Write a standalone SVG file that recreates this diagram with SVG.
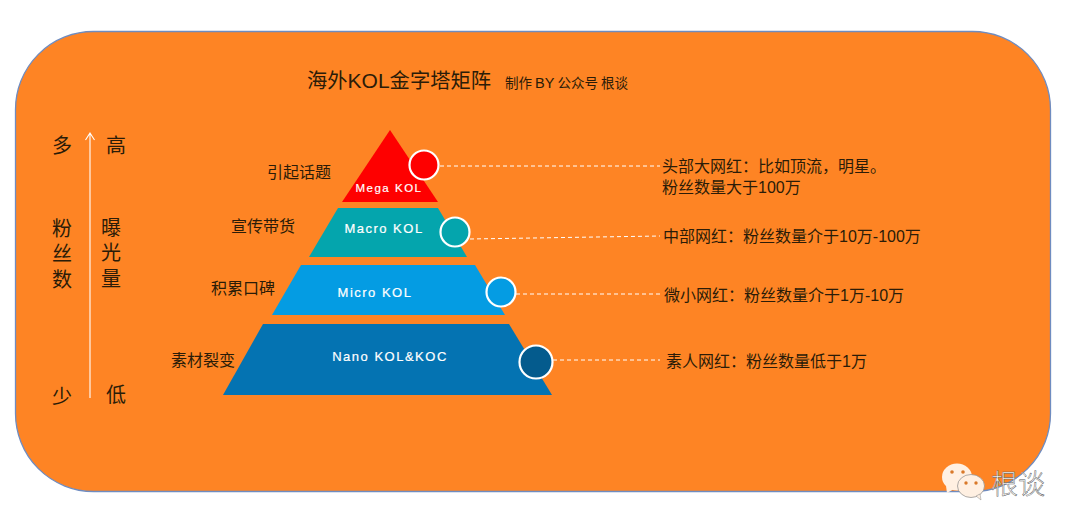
<svg xmlns="http://www.w3.org/2000/svg" width="1080" height="532" viewBox="0 0 1080 532">
<style>
text{font-family:"Noto Sans CJK SC","Liberation Sans",sans-serif;fill:#2b1c08}
.lat{font-family:"Liberation Sans","Noto Sans CJK SC",sans-serif}
.lvl{font-family:"Liberation Sans",sans-serif;fill:#fff;stroke:#fff;stroke-width:.2;letter-spacing:1.5px;text-anchor:middle;font-size:13px}
.tag{font-size:16px;text-anchor:middle}
.desc{font-family:"Liberation Sans","Noto Sans CJK SC",sans-serif;font-size:16px}
.big{font-size:20px;text-anchor:middle}
.col{font-size:20px;writing-mode:vertical-rl;letter-spacing:5.500px}
.dash{stroke:#fff;stroke-width:1;stroke-dasharray:4 3;fill:none}
.dot{stroke:#fff;stroke-width:2.200}
</style>
<g id="background"><rect x="15.500" y="31.500" width="1035" height="460" rx="78" ry="78" fill="#fe8424" stroke="#6f8cc0" stroke-width="1.300"/></g>
<g id="title"><text x="307" y="88" font-size="20.300">海外<tspan class="lat" font-size="21">KOL</tspan>金字塔矩阵</text><text x="505" y="88" font-size="13.500">制作 <tspan class="lat" font-size="14.500">BY</tspan> 公众号 根谈</text></g>
<g id="connectors">
<path class="dash" d="M440 166H660"/>
<path class="dash" d="M470 239L660 236"/>
<path class="dash" d="M516 294H660"/>
<path class="dash" d="M553 360H660"/>
<path d="M90 398V133M85.500 140L90 133L94.500 140" stroke="#fff" stroke-width="1.100" fill="none"/>
</g>
<g id="axis-left"><text class="big" x="62" y="153">多</text><text class="col" x="62" y="218">粉丝数</text><text class="big" x="62" y="404">少</text></g>
<g id="axis-right"><text class="big" x="116" y="153">高</text><text class="col" x="111" y="217">曝光量</text><text class="big" x="116" y="402">低</text></g>
<g id="mega"><path d="M390 130L438 202H342Z" fill="#fe0000"/><text class="lvl" x="389" y="192" style="font-size:11.500px">Mega KOL</text><circle class="dot" cx="424" cy="165" r="14.500" fill="#fe0000"/><text class="tag" x="299" y="178">引起话题</text><text class="desc" x="662" y="172">头部大网红：比如顶流，明星。</text><text class="desc" x="662" y="193">粉丝数量大于100万</text></g>
<g id="macro"><path d="M338 208H438L467 257H309Z" fill="#04a5ad"/><text class="lvl" x="384" y="233">Macro KOL</text><circle class="dot" cx="455" cy="232" r="14.500" fill="#04a5ad"/><text class="tag" x="263" y="232">宣传带货</text><text class="desc" x="663" y="242">中部网红：粉丝数量介于10万-100万</text></g>
<g id="micro"><path d="M301 265H475L505 315H272Z" fill="#049ce3"/><text class="lvl" x="375" y="297">Micro KOL</text><circle class="dot" cx="501" cy="292" r="14.500" fill="#049ce3"/><text class="tag" x="243" y="294">积累口碑</text><text class="desc" x="664" y="301">微小网红：粉丝数量介于1万-10万</text></g>
<g id="nano"><path d="M263 324H509L552 395H223Z" fill="#0473b2"/><text class="lvl" x="390" y="361">Nano KOL&amp;KOC</text><circle class="dot" cx="536" cy="362" r="16.500" fill="#045b8d"/><text class="tag" x="203" y="366">素材裂变</text><text class="desc" x="666" y="367">素人网红：粉丝数量低于1万</text></g>
<g id="watermark">
<ellipse cx="957" cy="477" rx="15" ry="13.500" fill="#fff0e2"/><path d="M946 486L947 493L954 489Z" fill="#fff0e2"/>
<ellipse cx="971" cy="486" rx="13.500" ry="11.500" fill="#fff0e2" stroke="#8a8a8a" stroke-width=".7"/><path d="M976 496L981 500L980 494Z" fill="#fff0e2" stroke="#8a8a8a" stroke-width=".5"/>
<circle cx="952" cy="472" r="1.800" fill="#d9792a"/><circle cx="963" cy="472" r="1.800" fill="#d9792a"/><circle cx="966" cy="483" r="1.700" fill="#d9792a"/><circle cx="976" cy="483" r="1.700" fill="#d9792a"/>
<text x="991" y="494" font-size="27" font-weight="300" style="fill:#fff;stroke:#555;stroke-width:.45">根谈</text>
</g>
</svg>
